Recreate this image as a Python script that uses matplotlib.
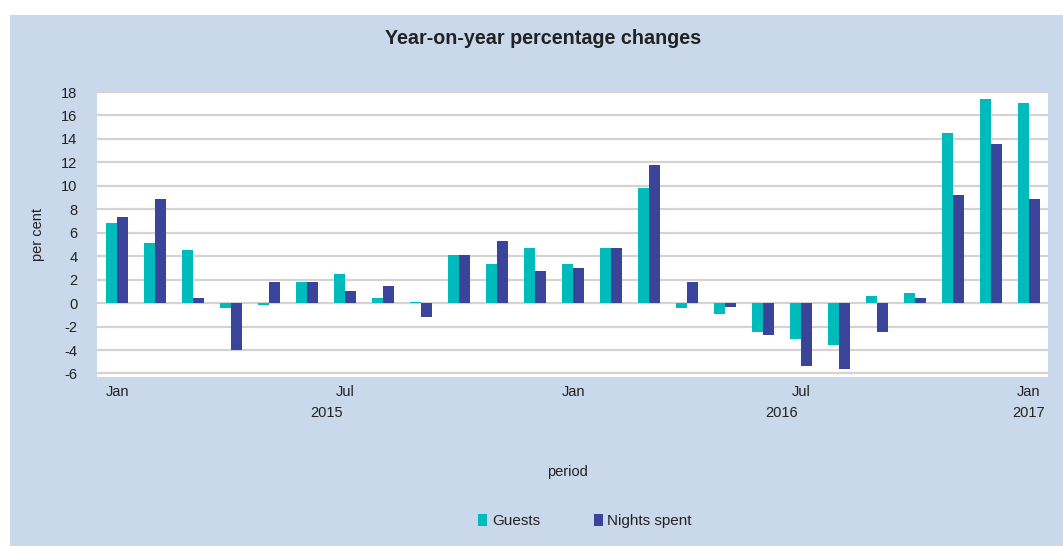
import matplotlib.pyplot as plt
from matplotlib.patches import Rectangle
import numpy as np

plt.rcParams['font.family'] = ['Liberation Sans', 'DejaVu Sans']
plt.rcParams['axes.unicode_minus'] = False

# Data (Jan 2015 - Jan 2017)
months = ['Jan', 'Feb', 'Mar', 'Apr', 'May', 'Jun', 'Jul', 'Aug', 'Sep', 'Oct', 'Nov', 'Dec',
          'Jan', 'Feb', 'Mar', 'Apr', 'May', 'Jun', 'Jul', 'Aug', 'Sep', 'Oct', 'Nov', 'Dec',
          'Jan']
guests = [6.8, 5.1, 4.5, -0.4, -0.15, 1.8, 2.5, 0.4, 0.1, 4.1, 3.3, 4.7,
          3.3, 4.7, 9.8, -0.4, -0.9, -2.5, -3.1, -3.6, 0.6, 0.9, 14.5, 17.4,
          17.1]
nights = [7.3, 8.9, 0.4, -4.0, 1.8, 1.8, 1.0, 1.5, -1.2, 4.1, 5.3, 2.7,
          3.0, 4.7, 11.8, 1.8, -0.3, -2.7, -5.4, -5.6, -2.5, 0.4, 9.2, 13.6,
          8.9]
tick_idx = [0, 6, 12, 18, 24]
years = ['2015', '2016', '2017']
year_pos = [5.5, 17.5, 24]

bg = '#C9D8EA'
c_guests = '#00BBBC'
c_nights = '#3A449B'
txt = '#222222'

fig = plt.figure(figsize=(10.63, 5.46), dpi=100)
fig.patch.set_facecolor('white')
fig.patches.append(Rectangle((10 / 1063, 0), 1 - 10 / 1063, 1 - 15 / 546,
                             transform=fig.transFigure, facecolor=bg,
                             edgecolor='none', zorder=-10))

ax = fig.add_axes([97 / 1063, 1 - 377 / 546, (1048 - 97) / 1063, (377 - 92) / 546])
ax.set_facecolor('white')

x = np.arange(len(months))
w = 0.29
ax.bar(x - w / 2, guests, w, color=c_guests, label='Guests', zorder=3)
ax.bar(x + w / 2, nights, w, color=c_nights, label='Nights spent', zorder=3)

ax.set_xlim(-0.53, 24.5)
ax.set_ylim(-6.3, 18)
ax.set_yticks(np.arange(-6, 19, 2))
ax.yaxis.grid(True, color='#D3D3D3', linewidth=1.6, zorder=0)
ax.set_xticks(x[tick_idx])
ax.set_xticklabels([months[i] for i in tick_idx])
for s in ax.spines.values():
    s.set_visible(False)
ax.tick_params(length=0, labelsize=10.5, colors=txt)
ax.tick_params(axis='y', pad=14)
ax.tick_params(axis='x', pad=6)

# year labels under the month ticks
tr = ax.get_xaxis_transform()
for yr, xp in zip(years, year_pos):
    ax.text(xp, (377 - 413) / 285, yr, transform=tr, ha='center', va='center',
            fontsize=10.5, color=txt)

ax.set_ylabel('per cent', fontsize=10.5, color=txt, labelpad=12)
fig.text(567 / 1063, 1 - 472 / 546, 'period', ha='center', va='center', fontsize=10.5, color=txt)
fig.text(543 / 1063, 1 - 38 / 546, 'Year-on-year percentage changes', ha='center', va='center',
         fontsize=14.2, fontweight='bold', color=txt)

leg = fig.legend(loc='center', bbox_to_anchor=(585 / 1063, 1 - 521 / 546), ncol=2, frameon=False,
                 fontsize=11, handlelength=0.6, handleheight=0.9, handletextpad=0.3,
                 columnspacing=3.5)
for t in leg.get_texts():
    t.set_color(txt)

fig.savefig('out.png', dpi=100)
